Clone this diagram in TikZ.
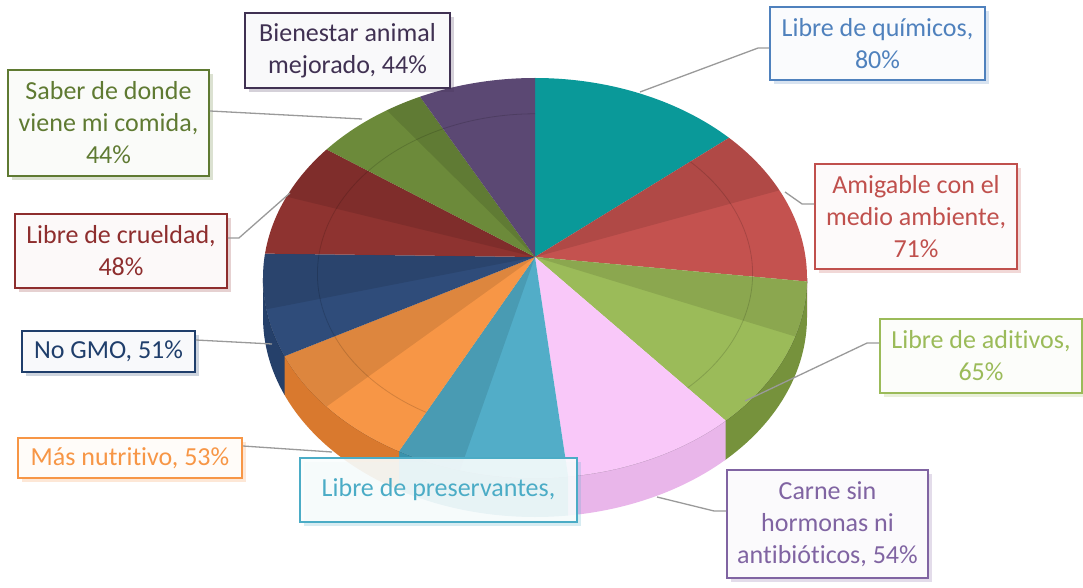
\documentclass[tikz,border=0pt]{standalone}
\usepackage{fontspec}
\setmainfont[Ligatures=NoCommon]{Carlito}
\usetikzlibrary{shadows}
% label colours
\definecolor{cBien}{HTML}{403152}
\definecolor{cQuim}{HTML}{4F81BD}
\definecolor{cSaber}{HTML}{5F7A32}
\definecolor{cAmig}{HTML}{C0504D}
\definecolor{cCruel}{HTML}{8E2E2E}
\definecolor{cAdit}{HTML}{9BBB59}
\definecolor{cGmo}{HTML}{1F3E6B}
\definecolor{cMas}{HTML}{F79646}
\definecolor{cPres}{HTML}{4BACC6}
\definecolor{cCarne}{HTML}{8064A2}
% pie colours
\definecolor{pTeal}{HTML}{0A9999}
\definecolor{pRed}{HTML}{C4524F}
\definecolor{pGreen}{HTML}{9BBB59}
\definecolor{pPink}{HTML}{F9C8F9}
\definecolor{pCyan}{HTML}{52ADC8}
\definecolor{pOrange}{HTML}{F79646}
\definecolor{pBlue}{HTML}{2F4C7A}
\definecolor{pDRed}{HTML}{8E3330}
\definecolor{pOlive}{HTML}{6C8A3A}
\definecolor{pPurple}{HTML}{5B4873}
% wall colours
\definecolor{wGreen}{HTML}{76923C}
\definecolor{wPink}{HTML}{E9B6EA}
\definecolor{wCyan}{HTML}{3A93AD}
\definecolor{wOrange}{HTML}{D9792E}
\definecolor{wBlue}{HTML}{25406A}
\definecolor{wRed}{HTML}{9E3E3B}
\definecolor{connGray}{HTML}{9A9A9A}

\newcommand{\pieslice}[3]{%
  \fill[#3] (535,257) -- ({535+272*cos(#1)},{278+200*sin(#1)})
    arc[start angle=#1,end angle=#2,x radius=272,y radius=200] -- cycle;}
\newcommand{\pieband}[2]{%
  \fill[black,opacity=.1] (535,257) -- ({535+272*cos(#1)},{278+200*sin(#1)})
    arc[start angle=#1,end angle=#2,x radius=272,y radius=200] -- cycle;}
\newcommand{\piearc}[2]{%
  \draw[black,opacity=.15,line width=.8] ({535+217.6*cos(#1)},{273.8+160*sin(#1)})
    arc[start angle=#1,end angle=#2,x radius=217.6,y radius=160];}
\newcommand{\piewall}[3]{%
  \fill[#3] ({535+272*cos(#1)},{278+200*sin(#1)})
    arc[start angle=#1,end angle=#2,x radius=272,y radius=200] -- ++(0,39)
    arc[start angle=#2,end angle=#1,x radius=272,y radius=200] -- cycle;
  \draw[#3!60!black,opacity=.5,line width=.7] ({535+272*cos(#1)},{278+200*sin(#1)})
    arc[start angle=#1,end angle=#2,x radius=272,y radius=200];}

\tikzset{
  lbl/.style={draw=#1, text=#1, line width=1.8pt, fill=#1!3!white,
    align=center, inner sep=0pt,
    drop shadow={shadow xshift=4pt,shadow yshift=-4pt,fill=#1,opacity=.22},
    font=\fontsize{26}{32}\selectfont},
  conn/.style={draw=connGray, line width=1.3pt}
}

\begin{document}
\begin{tikzpicture}[x=1pt,y=-1pt]
\fill[white] (0,0) rectangle (1083,588);
\useasboundingbox (0,0) rectangle (1083,588);

% side walls
\piewall{0}{1.5}{wRed}
\piewall{1}{45.8}{wGreen}
\piewall{45.5}{83.3}{wPink}
\piewall{83}{120.3}{wCyan}
\piewall{120}{157.3}{wOrange}
\piewall{157}{180}{wBlue}

% top surface
\pieslice{-90}{-44.5}{pTeal}
\pieslice{-44.5}{1}{pRed}
\pieslice{1}{45.5}{pGreen}
\pieslice{45.5}{83}{pPink}
\pieslice{83}{120}{pCyan}
\pieslice{120}{157}{pOrange}
\pieslice{157}{187}{pBlue}
\pieslice{187}{220}{pDRed}
\pieslice{220}{245}{pOlive}
\pieslice{245}{270}{pPurple}

% darker bands
\pieband{-44.5}{-26}
\pieband{1}{17}
\pieband{106}{120}
\pieband{140}{157}
\pieband{171}{187}
\pieband{204}{220}
\pieband{237}{245}

% inner arcs
\piearc{-44.5}{1}
\piearc{1}{45.5}
\piearc{120}{157}
\piearc{157}{187}
\piearc{187}{220}
\piearc{220}{245}
\piearc{245}{270}

% connector end points
\coordinate (eQuim) at (640,92);
\coordinate (eAmig) at (785,192);
\coordinate (eAdit) at (745,401);
\coordinate (eCarne) at (657,497);
\coordinate (eMas) at (332,452);
\coordinate (eGmo) at (272,344);
\coordinate (eCruel) at (290,193);
\coordinate (eSaber) at (362,119);

% labels
\node[lbl=cBien, minimum width=205, minimum height=75] (bien) at (347.5,50.5) {Bienestar animal\\mejorado, 44\%};
\node[lbl=cQuim, minimum width=215, minimum height=73] (quim) at (877.5,43.5) {Libre de químicos,\\80\%};
\node[lbl=cSaber, minimum width=201, minimum height=106] (saber) at (108.5,123) {Saber de donde\\viene mi comida,\\44\%};
\node[lbl=cAmig, minimum width=202, minimum height=105] (amig) at (916,216.5) {Amigable con el\\medio ambiente,\\71\%};
\node[lbl=cCruel, minimum width=212, minimum height=74] (cruel) at (121,251) {Libre de crueldad,\\48\%};
\node[lbl=cAdit, minimum width=202, minimum height=74] (adit) at (981,356) {Libre de aditivos,\\65\%};
\node[lbl=cGmo, minimum width=173, minimum height=41] (gmo) at (108.5,351.5) {No GMO, 51\%};
\node[lbl=cMas, minimum width=224, minimum height=40] (mas) at (130,458) {Más nutritivo, 53\%};
\node[lbl=cPres, minimum width=277, minimum height=64, fill opacity=.9, text opacity=1] (pres) at (438.5,490) {Libre de preservantes,};
\node[lbl=cCarne, minimum width=201, minimum height=108] (carne) at (827.5,524) {Carne sin\\hormonas ni\\antibióticos, 54\%};

% connectors
\draw[conn] ([yshift=-4.5pt]quim.west) -- ++(-11,0) -- (eQuim);
\draw[conn] ([yshift=12.5pt]amig.west) -- ++(-12,0) -- (eAmig);
\draw[conn] ([yshift=13pt]adit.west) -- ++(-12,0) -- (eAdit);
\draw[conn] ([yshift=13pt]carne.west) -- ++(-12,0) -- (eCarne);
\draw[conn] ([yshift=12pt]mas.east) -- (eMas);
\draw[conn] ([yshift=11.5pt]gmo.east) -- (eGmo);
\draw[conn] ([yshift=13pt]cruel.east) -- ++(11,0) -- (eCruel);
\draw[conn] ([yshift=12pt]saber.east) -- (eSaber);
\end{tikzpicture}
\end{document}
